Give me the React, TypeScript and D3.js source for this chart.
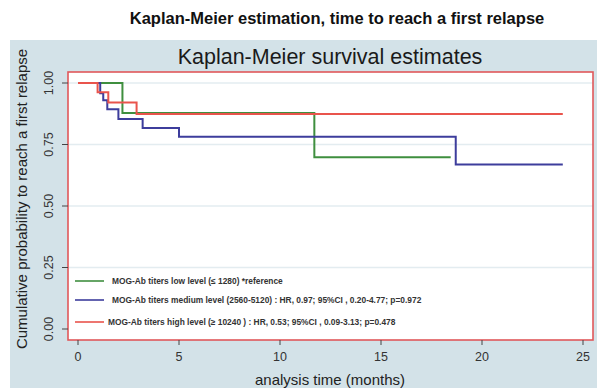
import React from "react";
import * as d3 from "d3";

// Kaplan-Meier step data: [time (months), survival probability]
const lowLevel: [number, number][] = [
  [0, 1.0],
  [2.2, 0.878],
  [11.7, 0.698],
  [18.45, 0.698],
];
const mediumLevel: [number, number][] = [
  [0, 1.0],
  [1.1, 0.958],
  [1.25, 0.93],
  [1.45, 0.893],
  [2.0, 0.854],
  [3.2, 0.817],
  [5.0, 0.782],
  [18.7, 0.669],
  [24.0, 0.669],
];
const highLevel: [number, number][] = [
  [0, 1.0],
  [0.97, 0.962],
  [1.5, 0.921],
  [2.9, 0.874],
  [24.0, 0.874],
];

const xTicks = [0, 5, 10, 15, 20, 25];
const yTicks = [0, 0.25, 0.5, 0.75, 1.0];

const legendLabels = [
  "MOG-Ab titers low level (\u2264 1280)   *reference",
  "MOG-Ab titers medium level (2560-5120) : HR, 0.97; 95%CI , 0.20-4.77; p=0.972",
  "MOG-Ab titers high level (\u2265 10240 ) : HR, 0.53; 95%CI , 0.09-3.13; p=0.478",
];
const seriesColors = ["#3f8f3f", "#3d3d9c", "#e9544c"];
const seriesData = [lowLevel, mediumLevel, highLevel];

const W = 597;
const H = 390;
const plot = { left: 68, top: 72, right: 593, bottom: 340 };

export default function App() {
  const x = d3.scaleLinear().domain([0, 25]).range([78, 583]);
  const y = d3.scaleLinear().domain([0, 1]).range([329, 83]);
  const line = d3
    .line<[number, number]>()
    .x((d) => x(d[0]))
    .y((d) => y(d[1]))
    .curve(d3.curveStepAfter);

  const font = "Arial, 'Liberation Sans', Helvetica, sans-serif";
  const legendY = [281, 300, 322];

  return (
    <svg
      width={W}
      height={H}
      style={{ position: "absolute", left: 0, top: 0, background: "#ffffff" }}
      fontFamily={font}
    >
      <text
        x={337}
        y={24}
        textAnchor="middle"
        fontSize={16.5}
        fontWeight="bold"
        fill="#111"
      >
        Kaplan-Meier estimation, time to reach a first relapse
      </text>

      {/* graph background */}
      <rect x={10} y={40} width={W - 10} height={348} fill="#d3e2e8" />

      <text x={330} y={64} textAnchor="middle" fontSize={21.5} fill="#1a1a1a">
        Kaplan-Meier survival estimates
      </text>

      {/* plot region */}
      <rect
        x={plot.left}
        y={plot.top}
        width={plot.right - plot.left}
        height={plot.bottom - plot.top}
        fill="#ffffff"
      />

      {/* grid lines */}
      {yTicks
        .filter((v) => v > 0)
        .map((v) => (
          <line
            key={"g" + v}
            x1={plot.left}
            x2={plot.right}
            y1={y(v)}
            y2={y(v)}
            stroke="#e3ecf0"
            strokeWidth={1.5}
          />
        ))}

      {/* curves */}
      {seriesData.map((d, i) => (
        <path
          key={"s" + i}
          d={line(d) || ""}
          fill="none"
          stroke={seriesColors[i]}
          strokeWidth={2}
        />
      ))}

      {/* legend */}
      {legendLabels.map((lab, i) => (
        <g key={"l" + i}>
          <line
            x1={75}
            x2={104}
            y1={legendY[i]}
            y2={legendY[i]}
            stroke={seriesColors[i]}
            strokeWidth={1.6}
          />
          <text
            x={i === 2 ? 108 : 112}
            y={legendY[i] + 3}
            fontSize={8.4}
            fontWeight="bold"
            fill="#333"
          >
            {lab}
          </text>
        </g>
      ))}

      {/* plot region border */}
      <rect
        x={plot.left}
        y={plot.top}
        width={plot.right - plot.left}
        height={plot.bottom - plot.top}
        fill="none"
        stroke="#e0585a"
        strokeWidth={1.6}
      />

      {/* y axis */}
      {yTicks.map((v) => (
        <g key={"y" + v}>
          <line
            x1={62}
            x2={plot.left}
            y1={y(v)}
            y2={y(v)}
            stroke="#444"
            strokeWidth={1}
          />
          <text
            transform={`translate(53, ${y(v)}) rotate(-90)`}
            textAnchor="middle"
            fontSize={12.5}
            fill="#333"
          >
            {v.toFixed(2)}
          </text>
        </g>
      ))}
      <text
        transform={`translate(27, ${199}) rotate(-90)`}
        textAnchor="middle"
        fontSize={15}
        fill="#222"
      >
        Cumulative probability to reach a first relapse
      </text>

      {/* x axis */}
      {xTicks.map((t) => (
        <g key={"x" + t}>
          <line
            x1={x(t)}
            x2={x(t)}
            y1={plot.bottom}
            y2={plot.bottom + 5}
            stroke="#444"
            strokeWidth={1}
          />
          <text
            x={x(t)}
            y={361}
            textAnchor="middle"
            fontSize={12.5}
            fill="#333"
          >
            {t}
          </text>
        </g>
      ))}
      <text x={330} y={385} textAnchor="middle" fontSize={15} fill="#222">
        analysis time (months)
      </text>
    </svg>
  );
}
